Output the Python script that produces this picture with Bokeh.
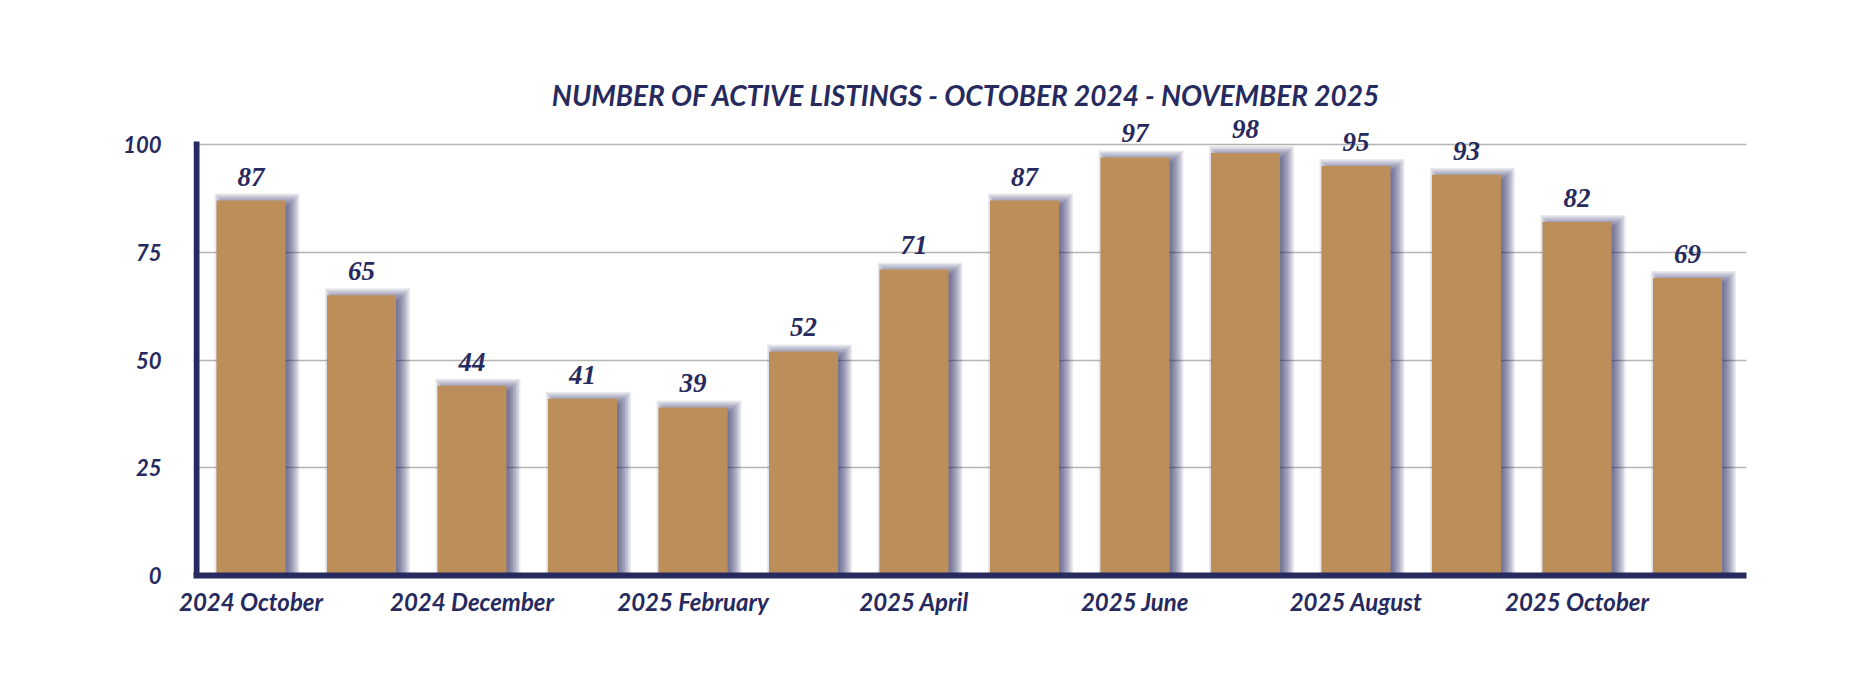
from bokeh.plotting import figure
from bokeh.models import ColumnDataSource, LabelSet, Label, FixedTicker
from bokeh.embed import file_html
from bokeh.resources import INLINE

# ---- data ----
months = ["2024 October", "2024 November", "2024 December", "2025 January",
          "2025 February", "2025 March", "2025 April", "2025 May", "2025 June",
          "2025 July", "2025 August", "2025 September", "2025 October", "2025 November"]
values = [87, 65, 44, 41, 39, 52, 71, 87, 97, 98, 95, 93, 82, 69]
shown_ticks = [0, 2, 4, 6, 8, 10, 12]
y_ticks = [0, 25, 50, 75, 100]
title_text = "NUMBER OF ACTIVE LISTINGS - OCTOBER 2024 -  NOVEMBER 2025"

# ---- style ----
NAVY = "#262A5E"
TAN = "#BC8F5A"
GRID = "#B5B5B5"
FONT = "Lato"

W, H = 1854, 690
BL, BR, BT, BB = 193, 108, 20, 115
frame_w = W - BL - BR
frame_h = H - BT - BB
ppx = 110.5          # pixels per category
ppy = 4.31           # pixels per unit
x0 = -57.5 / ppx
x1 = x0 + frame_w / ppx
y0 = 0
y1 = frame_h / ppy

p = figure(width=W, height=H, x_range=(x0, x1), y_range=(y0, y1),
           output_backend="svg", toolbar_location=None,
           min_border_left=BL, min_border_right=BR,
           min_border_top=BT, min_border_bottom=BB)
p.outline_line_color = None
p.background_fill_color = "white"
p.border_fill_color = "white"

xs = list(range(len(months)))
src = ColumnDataSource(dict(x=xs, top=values, label=[str(v) for v in values]))

bar_w = 69 / ppx

# soft shadow layers (offset to the right, blurred)
dx_px, dy_px = 6, -1
for s in [8, 6.5, 5, 3.5, 2, 0.5, -1, -2.5, -4]:
    sh = ColumnDataSource(dict(
        x=[x + dx_px / ppx for x in xs],
        top=[v + (dy_px + s) / ppy for v in values]))
    p.vbar(x="x", top="top", bottom=0, width=bar_w + 2 * s / ppx, source=sh,
           fill_color=NAVY, fill_alpha=0.1, line_color=None)

p.vbar(x="x", top="top", bottom=0, width=bar_w, source=src,
       fill_color=TAN, line_color=None)

labels = LabelSet(x="x", y="top", text="label", source=src,
                  text_align="center", text_baseline="bottom", y_offset=15,
                  text_font=FONT, text_font_style="bold italic",
                  text_font_size="27px", text_color=NAVY)
p.add_layout(labels)

title = Label(x=(-0.5 + len(months) - 0.5) / 2, y=100 + 50 / ppy, text=title_text,
              text_align="center", text_baseline="middle",
              text_font=FONT, text_font_style="bold italic",
              text_font_size="28px", text_color=NAVY)
p.add_layout(title)

# y-axis line drawn as a glyph so it stops at the 100 gridline
p.segment(x0=[x0 + 3 / ppx], y0=[0], x1=[x0 + 3 / ppx], y1=[100 + 3 / ppy],
          line_color=NAVY, line_width=6, line_cap="butt")

# axes
p.xaxis.ticker = FixedTicker(ticks=shown_ticks)
p.xaxis.major_label_overrides = {i: months[i] for i in shown_ticks}
p.yaxis.ticker = FixedTicker(ticks=y_ticks)
for ax in (p.xaxis, p.yaxis):
    ax.major_tick_line_color = None
    ax.minor_tick_line_color = None
    ax.major_label_text_color = NAVY
    ax.major_label_text_font = FONT
    ax.major_label_text_font_style = "bold italic"
p.xaxis.axis_line_color = NAVY
p.xaxis.axis_line_width = 6
p.yaxis.axis_line_color = None
p.xaxis.major_label_text_font_size = "24px"
p.yaxis.major_label_text_font_size = "22px"
p.xaxis.major_label_standoff = 5
p.yaxis.major_label_standoff = 26

p.xgrid.grid_line_color = None
p.ygrid.ticker = FixedTicker(ticks=[25, 50, 75, 100])
p.ygrid.grid_line_color = GRID
p.ygrid.grid_line_width = 1.6

open("out.html", "w").write(file_html(p, INLINE))
